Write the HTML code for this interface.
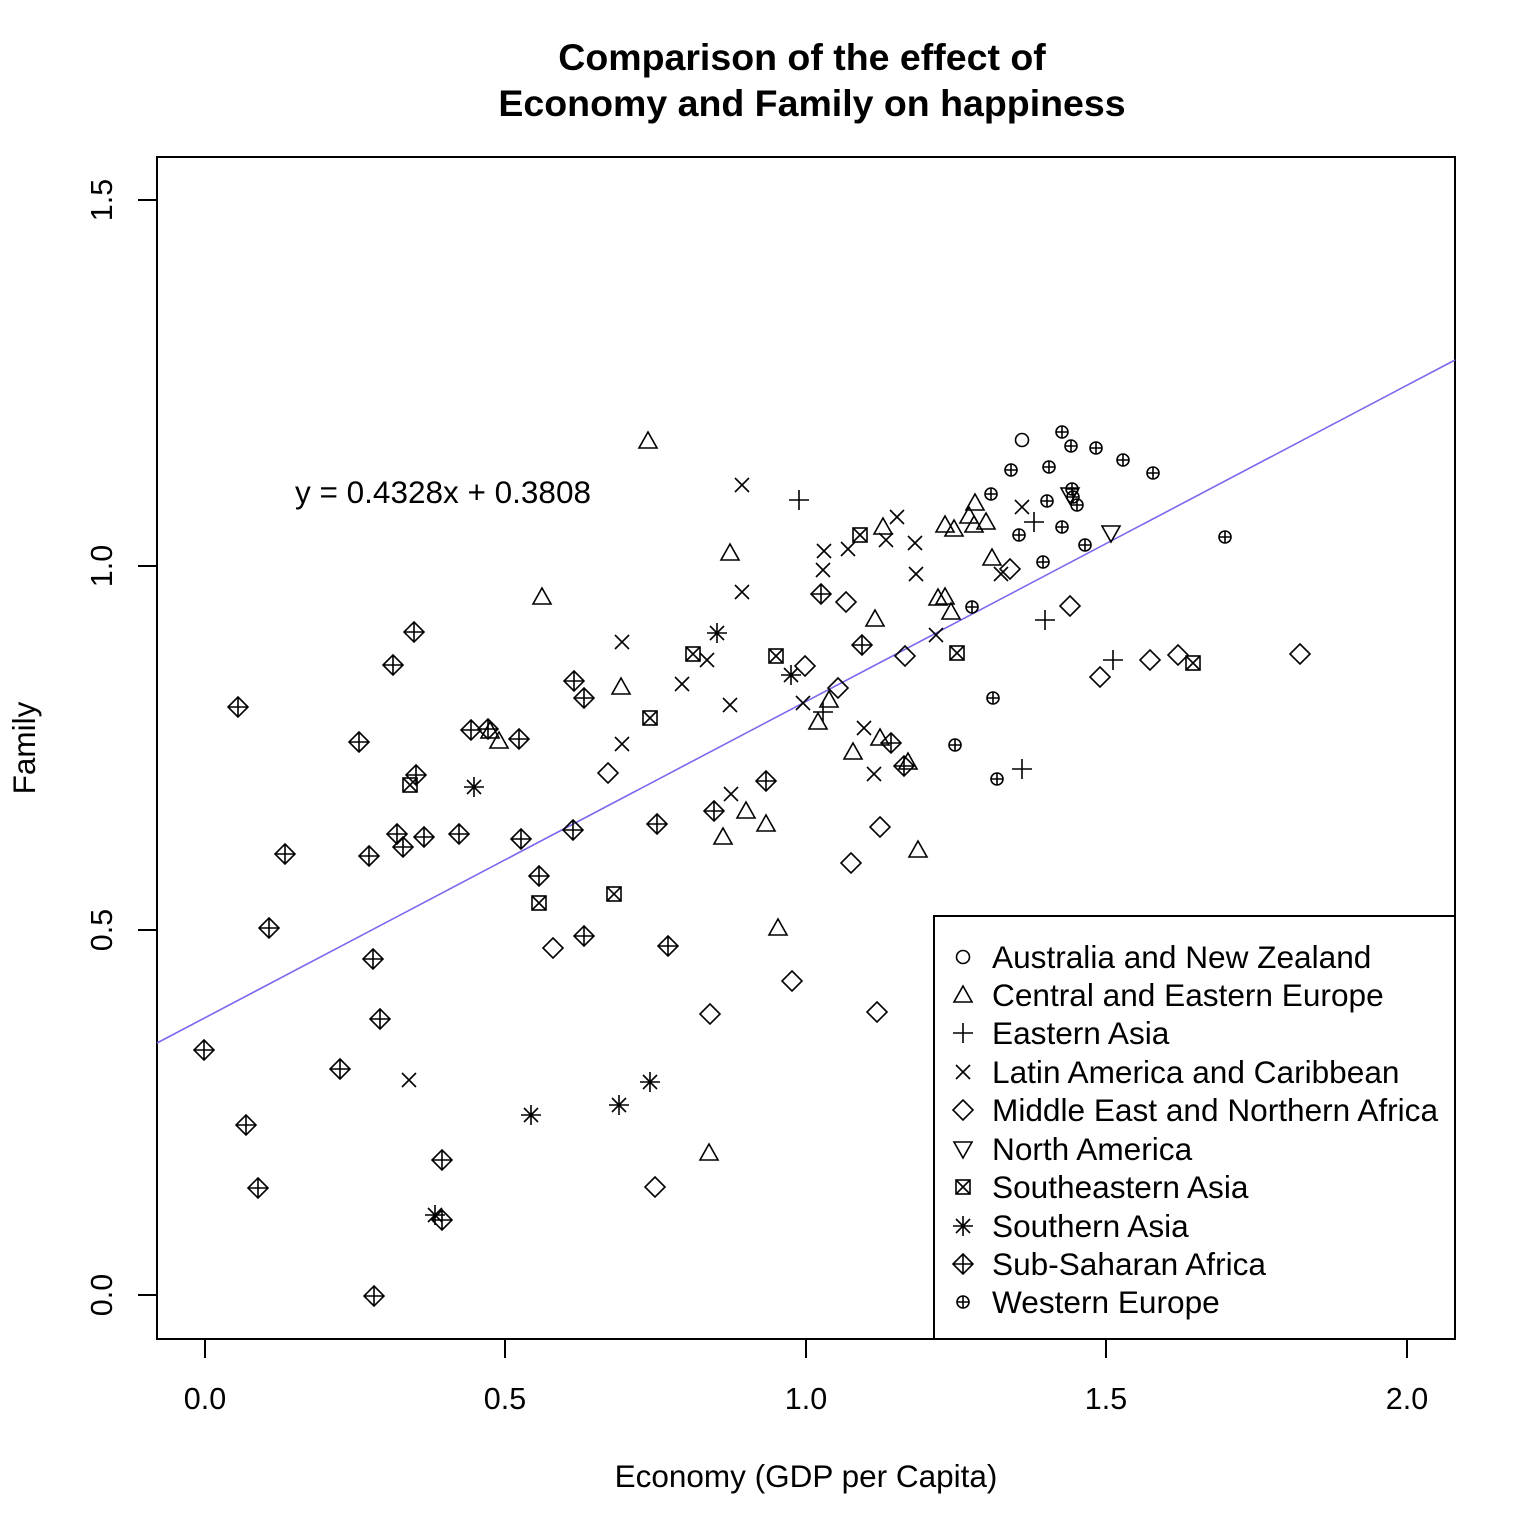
<!DOCTYPE html>
<html><head><meta charset="utf-8"><style>
html,body{margin:0;padding:0;background:#fff;}
svg{display:block;font-family:"Liberation Sans",Arial,sans-serif;}
</style></head><body>
<svg width="1536" height="1536" viewBox="0 0 1536 1536" xmlns="http://www.w3.org/2000/svg">
<defs>
<g id="ci"><circle r="6.5" fill="none" stroke="#000" stroke-width="1.6"/></g>
<g id="tu"><path d="M0,-9 L9,7 L-9,7 Z" fill="none" stroke="#000" stroke-width="1.6"/></g>
<g id="td"><path d="M0,9 L9,-7 L-9,-7 Z" fill="none" stroke="#000" stroke-width="1.6"/></g>
<g id="pl"><path d="M-10,0 H10 M0,-10 V10" stroke="#000" stroke-width="1.6"/></g>
<g id="xx"><path d="M-7,-7 L7,7 M-7,7 L7,-7" stroke="#000" stroke-width="1.6"/></g>
<g id="di"><path d="M0,-10 L10,0 L0,10 L-10,0 Z" fill="none" stroke="#000" stroke-width="1.6"/></g>
<g id="bx"><rect x="-7" y="-7" width="14" height="14" fill="none" stroke="#000" stroke-width="1.6"/><path d="M-7,-7 L7,7 M-7,7 L7,-7" stroke="#000" stroke-width="1.6"/></g>
<g id="as"><path d="M-7,-7 L7,7 M-7,7 L7,-7 M-10,0 H10 M0,-10 V10" stroke="#000" stroke-width="1.6"/></g>
<g id="dp"><path d="M0,-10 L10,0 L0,10 L-10,0 Z M-10,0 H10 M0,-10 V10" fill="none" stroke="#000" stroke-width="1.6"/></g>
<g id="cp"><circle r="6" fill="none" stroke="#000" stroke-width="1.6"/><path d="M-6,0 H6 M0,-6 V6" stroke="#000" stroke-width="1.6"/></g>
</defs>
<text x="802" y="70" font-size="37.5" font-weight="bold" text-anchor="middle">Comparison of the effect of</text>
<text x="812" y="116" font-size="37.5" font-weight="bold" text-anchor="middle">Economy and Family on happiness</text>
<rect x="157" y="157" width="1298" height="1182" fill="none" stroke="#000" stroke-width="2"/>
<g stroke="#000" stroke-width="2">
<path d="M205,1339 V1358 M505,1339 V1358 M806,1339 V1358 M1106,1339 V1358 M1407,1339 V1358"/>
<path d="M157,1295 H138 M157,930 H138 M157,566 H138 M157,200 H138"/>
</g>
<g font-size="30.5" text-anchor="middle">
<text x="205" y="1409">0.0</text><text x="505" y="1409">0.5</text><text x="806" y="1409">1.0</text><text x="1106" y="1409">1.5</text><text x="1407" y="1409">2.0</text>
<text transform="translate(112,1295) rotate(-90)">0.0</text>
<text transform="translate(112,930) rotate(-90)">0.5</text>
<text transform="translate(112,566) rotate(-90)">1.0</text>
<text transform="translate(112,200) rotate(-90)">1.5</text>
</g>
<g font-size="31.5" text-anchor="middle">
<text x="806" y="1487">Economy (GDP per Capita)</text>
<text transform="translate(35,748) rotate(-90)">Family</text>
</g>
<text x="295" y="503" font-size="31.5">y = 0.4328x + 0.3808</text>
<line x1="157" y1="1043" x2="1455" y2="360" stroke="#7b68ee" stroke-width="1.6"/>
<g>
<use href="#ci" x="1022" y="440"/>
<use href="#tu" x="648" y="441"/><use href="#tu" x="730" y="553"/><use href="#tu" x="542" y="597"/><use href="#tu" x="621" y="687"/><use href="#tu" x="499" y="741"/><use href="#tu" x="490" y="731"/><use href="#tu" x="829" y="700"/><use href="#tu" x="818" y="722"/><use href="#tu" x="853" y="752"/><use href="#tu" x="880" y="738"/><use href="#tu" x="908" y="762"/><use href="#tu" x="746" y="811"/><use href="#tu" x="766" y="824"/><use href="#tu" x="723" y="837"/><use href="#tu" x="918" y="850"/><use href="#tu" x="778" y="928"/><use href="#tu" x="709" y="1153"/><use href="#tu" x="875" y="619"/><use href="#tu" x="883" y="527"/><use href="#tu" x="945" y="525"/><use href="#tu" x="954" y="529"/><use href="#tu" x="975" y="503"/><use href="#tu" x="969" y="516"/><use href="#tu" x="986" y="522"/><use href="#tu" x="974" y="525"/><use href="#tu" x="992" y="558"/><use href="#tu" x="938" y="598"/><use href="#tu" x="945" y="597"/><use href="#tu" x="951" y="612"/>
<use href="#pl" x="799" y="500"/><use href="#pl" x="1034" y="522"/><use href="#pl" x="1045" y="620"/><use href="#pl" x="1113" y="660"/><use href="#pl" x="1022" y="769"/><use href="#pl" x="823" y="712"/>
<use href="#xx" x="742" y="485"/><use href="#xx" x="1022" y="507"/><use href="#xx" x="897" y="517"/><use href="#xx" x="824" y="551"/><use href="#xx" x="848" y="549"/><use href="#xx" x="886" y="540"/><use href="#xx" x="915" y="543"/><use href="#xx" x="823" y="570"/><use href="#xx" x="916" y="574"/><use href="#xx" x="742" y="592"/><use href="#xx" x="1001" y="574"/><use href="#xx" x="622" y="642"/><use href="#xx" x="707" y="660"/><use href="#xx" x="682" y="684"/><use href="#xx" x="730" y="705"/><use href="#xx" x="622" y="744"/><use href="#xx" x="803" y="703"/><use href="#xx" x="864" y="728"/><use href="#xx" x="874" y="774"/><use href="#xx" x="731" y="794"/><use href="#xx" x="936" y="635"/><use href="#xx" x="409" y="1080"/>
<use href="#di" x="1010" y="569"/><use href="#di" x="846" y="602"/><use href="#di" x="1070" y="606"/><use href="#di" x="805" y="666"/><use href="#di" x="838" y="688"/><use href="#di" x="905" y="656"/><use href="#di" x="1100" y="677"/><use href="#di" x="1150" y="660"/><use href="#di" x="1178" y="655"/><use href="#di" x="1300" y="654"/><use href="#di" x="608" y="773"/><use href="#di" x="880" y="827"/><use href="#di" x="851" y="863"/><use href="#di" x="553" y="948"/><use href="#di" x="710" y="1014"/><use href="#di" x="792" y="981"/><use href="#di" x="877" y="1012"/><use href="#di" x="655" y="1187"/>
<use href="#td" x="1111" y="533"/><use href="#td" x="1070" y="495"/>
<use href="#bx" x="860" y="535"/><use href="#bx" x="693" y="654"/><use href="#bx" x="776" y="656"/><use href="#bx" x="650" y="718"/><use href="#bx" x="957" y="653"/><use href="#bx" x="1193" y="663"/><use href="#bx" x="410" y="785"/><use href="#bx" x="614" y="894"/><use href="#bx" x="539" y="903"/>
<use href="#as" x="717" y="633"/><use href="#as" x="791" y="675"/><use href="#as" x="474" y="787"/><use href="#as" x="619" y="1105"/><use href="#as" x="650" y="1082"/><use href="#as" x="531" y="1115"/><use href="#as" x="435" y="1215"/>
<use href="#dp" x="414" y="632"/><use href="#dp" x="393" y="665"/><use href="#dp" x="238" y="707"/><use href="#dp" x="574" y="681"/><use href="#dp" x="584" y="698"/><use href="#dp" x="471" y="730"/><use href="#dp" x="488" y="729"/><use href="#dp" x="519" y="739"/><use href="#dp" x="359" y="742"/><use href="#dp" x="416" y="775"/><use href="#dp" x="821" y="594"/><use href="#dp" x="862" y="645"/><use href="#dp" x="891" y="743"/><use href="#dp" x="904" y="766"/><use href="#dp" x="766" y="781"/><use href="#dp" x="714" y="811"/><use href="#dp" x="657" y="824"/><use href="#dp" x="573" y="830"/><use href="#dp" x="459" y="834"/><use href="#dp" x="424" y="837"/><use href="#dp" x="397" y="834"/><use href="#dp" x="403" y="847"/><use href="#dp" x="369" y="856"/><use href="#dp" x="285" y="854"/><use href="#dp" x="521" y="839"/><use href="#dp" x="539" y="876"/><use href="#dp" x="269" y="928"/><use href="#dp" x="584" y="936"/><use href="#dp" x="668" y="946"/><use href="#dp" x="373" y="959"/><use href="#dp" x="380" y="1019"/><use href="#dp" x="204" y="1050"/><use href="#dp" x="340" y="1069"/><use href="#dp" x="246" y="1125"/><use href="#dp" x="442" y="1160"/><use href="#dp" x="258" y="1188"/><use href="#dp" x="442" y="1220"/><use href="#dp" x="374" y="1296"/>
<use href="#cp" x="1062" y="432"/><use href="#cp" x="1071" y="446"/><use href="#cp" x="1096" y="448"/><use href="#cp" x="1123" y="460"/><use href="#cp" x="1049" y="467"/><use href="#cp" x="1011" y="470"/><use href="#cp" x="1153" y="473"/><use href="#cp" x="991" y="494"/><use href="#cp" x="1047" y="501"/><use href="#cp" x="1072" y="489"/><use href="#cp" x="1077" y="505"/><use href="#cp" x="1073" y="497"/><use href="#cp" x="1062" y="527"/><use href="#cp" x="1019" y="535"/><use href="#cp" x="1085" y="545"/><use href="#cp" x="1225" y="537"/><use href="#cp" x="1043" y="562"/><use href="#cp" x="972" y="607"/><use href="#cp" x="993" y="698"/><use href="#cp" x="955" y="745"/><use href="#cp" x="997" y="779"/>
</g>
<rect x="934" y="916" width="521" height="423" fill="#fff" stroke="#000" stroke-width="2"/>
<g>
<use href="#ci" x="963" y="957"/><use href="#tu" x="963" y="995"/><use href="#pl" x="963" y="1033"/><use href="#xx" x="963" y="1072"/><use href="#di" x="963" y="1110"/><use href="#td" x="963" y="1149"/><use href="#bx" x="963" y="1187"/><use href="#as" x="963" y="1226"/><use href="#dp" x="963" y="1264"/><use href="#cp" x="963" y="1302"/>
</g>
<g font-size="31.6">
<text x="992" y="968">Australia and New Zealand</text>
<text x="992" y="1006">Central and Eastern Europe</text>
<text x="992" y="1044">Eastern Asia</text>
<text x="992" y="1083">Latin America and Caribbean</text>
<text x="992" y="1121">Middle East and Northern Africa</text>
<text x="992" y="1160">North America</text>
<text x="992" y="1198">Southeastern Asia</text>
<text x="992" y="1237">Southern Asia</text>
<text x="992" y="1275">Sub-Saharan Africa</text>
<text x="992" y="1313">Western Europe</text>
</g>
</svg>
</body></html>
